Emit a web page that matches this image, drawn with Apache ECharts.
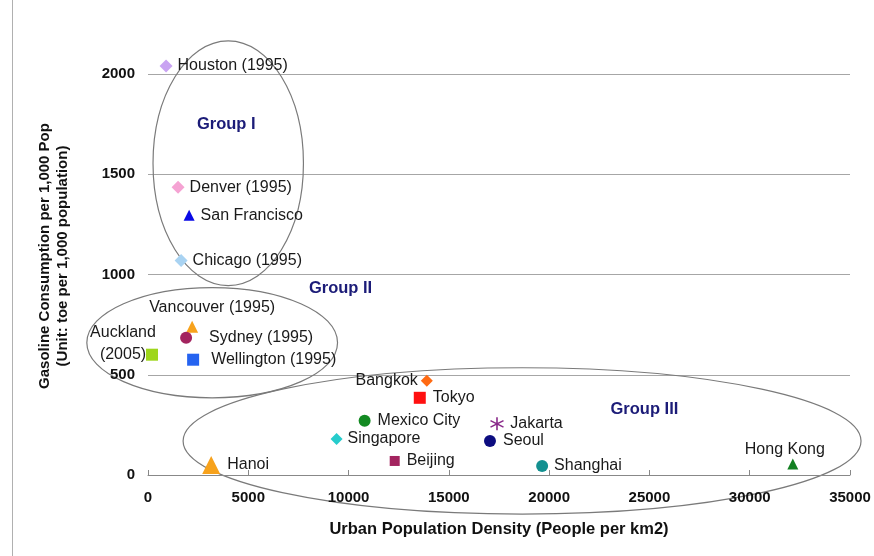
<!DOCTYPE html>
<html>
<head>
<meta charset="utf-8">
<script src="https://cdn.jsdelivr.net/npm/echarts@6/dist/echarts.min.js"></script>
<style>
  html, body { margin: 0; padding: 0; background: #fff; }
  #chart { width: 874px; height: 556px; }
</style>
</head>
<body>
<div id="chart"></div>
<script>
// city data
const cities = ['Houston (1995)', 'Denver (1995)', 'San Francisco', 'Chicago (1995)',
  'Vancouver (1995)', 'Sydney (1995)', 'Auckland\n(2005)', 'Wellington (1995)',
  'Bangkok', 'Tokyo', 'Mexico City', 'Jakarta', 'Singapore', 'Seoul',
  'Beijing', 'Shanghai', 'Hanoi', 'Hong Kong']
const density = [900, 1500, 2050, 1650, 2200, 1900, 200, 2250,
  13900, 13550, 10800, 17400, 9400, 17050, 12300, 19650, 3150, 32150]
const gasoline = [2040, 1435, 1295, 1070, 740, 685, 600, 575,
  470, 385, 270, 255, 180, 170, 70, 45, 50, 55]

const xTicks = [0, 35000, 5000]   // min, max, interval
const yTicks = [0, 2000, 500]

// group ellipses: [name, centre x, centre y, radius x, radius y, label x, label y]
const groups = [
  ['Group I', 4000, 1555, 3750, 610, 3900, 1750],
  ['Group II', 3200, 660, 6250, 275, 9600, 930],
  ['Group III', 18650, 170, 16900, 365, 24750, 325]
]

// marker look per city: symbol, colour, size, label position, distance, offset
const looks = {
  'Houston (1995)': ['diamond', '#c9a3f2', 13, 'right', 5, [0, 0]],
  'Denver (1995)': ['diamond', '#f5a3d3', 13, 'right', 5, [0, 0]],
  'San Francisco': ['triangle', '#0a0ae6', 11, 'right', 6, [0, 0]],
  'Chicago (1995)': ['diamond', '#a9d3f2', 13, 'right', 5, [0, 0]],
  'Vancouver (1995)': ['triangle', '#f7a21c', 12, 'top', 2, [20, 0]],
  'Sydney (1995)': ['circle', '#a3245f', 12, 'right', 17, [0, 0]],
  'Auckland\n(2005)': ['rect', '#9ed61c', 12, 'left', 5, [-18, -11]],
  'Wellington (1995)': ['rect', '#2563f0', 12, 'right', 12, [0, 0]],
  'Bangkok': ['diamond', '#ff6a12', 12, 'left', 3, [0, 0]],
  'Tokyo': ['rect', '#ff1010', 12, 'right', 7, [0, 0]],
  'Mexico City': ['circle', '#138a22', 12, 'right', 7, [0, 0]],
  'Jakarta': ['path://M0,-1L0,1M-0.87,-0.5L0.87,0.5M-0.87,0.5L0.87,-0.5', '#8a2a8a', 13, 'right', 6, [0, 0]],
  'Singapore': ['diamond', '#26cccc', 12, 'right', 5, [0, 0]],
  'Seoul': ['circle', '#0c0c80', 12, 'right', 7, [0, 0]],
  'Beijing': ['rect', '#a3245f', 10, 'right', 7, [0, 0]],
  'Shanghai': ['circle', '#139090', 12, 'right', 6, [0, 0]],
  'Hanoi': ['triangle', '#f7a21c', 18, 'right', 7, [0, 0]],
  'Hong Kong': ['triangle', '#138022', 11, 'top', 2, [-8, 4]]
}

const chart = echarts.init(document.getElementById('chart'))

const points = cities.map((c, i) => {
  const lk = looks[c]
  const star = lk[0].indexOf('path://') === 0
  return {
    name: c,
    value: [density[i], gasoline[i]],
    symbol: lk[0],
    symbolSize: lk[2],
    itemStyle: star
      ? { color: 'transparent', borderColor: lk[1], borderWidth: 1.6, opacity: 1 }
      : { color: lk[1], opacity: 1 },
    label: {
      position: lk[3], distance: lk[4], offset: lk[5],
      align: c.indexOf('\n') > 0 ? 'center' : undefined
    }
  }
})

const boldText = { color: '#111', fontFamily: 'Liberation Sans, Arial', fontWeight: 'bold', fontSize: 15 }

chart.setOption({
  animation: false,
  grid: { left: 148, right: 24, top: 74, bottom: 81 },
  xAxis: {
    type: 'value',
    min: xTicks[0], max: xTicks[1], interval: xTicks[2],
    name: 'Urban Population Density (People per km2)',
    nameLocation: 'middle',
    nameGap: 46,
    nameTextStyle: Object.assign({}, boldText, { fontSize: 16.5 }),
    axisLine: { show: true, onZero: false, lineStyle: { color: '#888' } },
    axisTick: { show: true, inside: true, length: 5, lineStyle: { color: '#888' } },
    axisLabel: Object.assign({ margin: 15, formatter: v => String(v) }, boldText),
    splitLine: { show: false }
  },
  yAxis: {
    type: 'value',
    min: yTicks[0], max: yTicks[1], interval: yTicks[2],
    axisLine: { show: false },
    axisTick: { show: false },
    axisLabel: Object.assign({ margin: 13, formatter: v => String(v) }, boldText),
    splitLine: { show: true, lineStyle: { color: '#a6a6a6' } }
  },
  series: [{
    type: 'scatter',
    clip: false,
    data: points,
    label: {
      show: true,
      formatter: p => p.name,
      color: '#1a1a1a',
      fontFamily: 'Liberation Sans, Arial',
      fontSize: 16,
      lineHeight: 22
    }
  }]
})

// left frame line of the original figure and the y axis title
const extras = [{
  type: 'line', shape: { x1: 12.5, y1: 0, x2: 12.5, y2: 556 },
  style: { stroke: '#b0b0b0', lineWidth: 1 }
}, {
  type: 'text', x: 54, y: 256, rotation: Math.PI / 2,
  style: {
    text: 'Gasoline Consumption per 1,000 Pop\n(Unit: toe per 1,000 population)',
    fill: '#111', font: 'bold 15px Liberation Sans, Arial', lineHeight: 18,
    textAlign: 'center', textVerticalAlign: 'middle'
  }
}]

groups.forEach(g => {
  const c = chart.convertToPixel({ gridIndex: 0 }, [g[1], g[2]])
  const e = chart.convertToPixel({ gridIndex: 0 }, [g[1] + g[3], g[2] + g[4]])
  const t = chart.convertToPixel({ gridIndex: 0 }, [g[5], g[6]])
  extras.push({
    type: 'ellipse', z: 0, silent: true,
    shape: { cx: c[0], cy: c[1], rx: Math.abs(e[0] - c[0]), ry: Math.abs(c[1] - e[1]) },
    style: { fill: 'none', stroke: '#7a7a7a', lineWidth: 1.2 }
  })
  extras.push({
    type: 'text', z: 10, x: t[0], y: t[1],
    style: {
      text: g[0], fill: '#1c1c78', font: 'bold 16.5px Liberation Sans, Arial',
      textAlign: 'center', textVerticalAlign: 'middle'
    }
  })
})

chart.setOption({ graphic: extras })

window.addEventListener('resize', () => {
  chart.resize()
})
</script>
</body>
</html>
